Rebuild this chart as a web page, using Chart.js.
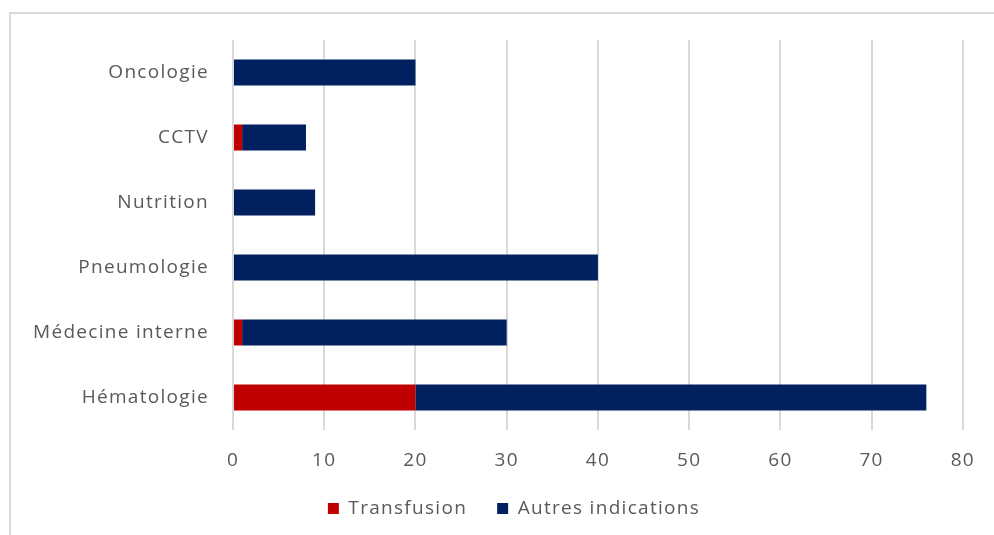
<!DOCTYPE html>
<html>
<head>
<meta charset="utf-8">
<script src="https://cdn.jsdelivr.net/npm/chart.js@4/dist/chart.umd.min.js"></script>
<style>
  html, body { margin: 0; padding: 0; background: #ffffff; }
  #wrap { position: relative; width: 994px; height: 535px; }
</style>
</head>
<body>
<div id="wrap"><canvas id="c" width="994" height="535"></canvas></div>
<script>
const categories = ['Oncologie', 'CCTV', 'Nutrition', 'Pneumologie', 'Médecine interne', 'Hématologie'];
const transfusion = [0, 1, 0, 0, 1, 20];
const autresIndications = [20, 7, 9, 40, 29, 56];
const seriesNames = ['Transfusion', 'Autres indications'];
const xTicks = [0, 10, 20, 30, 40, 50, 60, 70, 80];

const FONT = "'Open Sans', sans-serif";
const TEXT = '#595959';
const GRID = '#d9d9d9';
const SPACING = '1.3px';

const frame = {
  id: 'frame',
  afterInit(chart) {
    const lg = chart.legend;
    if (lg) {
      const f = lg.fit.bind(lg);
      lg.fit = function () { f(); this.height = 66; };
    }
  },
  beforeUpdate(chart) { chart.ctx.letterSpacing = SPACING; },
  beforeDraw(chart) {
    const ctx = chart.ctx;
    ctx.letterSpacing = SPACING;
    if (chart.legend) chart.legend.left = 64;
    ctx.save();
    ctx.strokeStyle = '#d9d9d9';
    ctx.lineWidth = 2;
    ctx.beginPath();
    ctx.moveTo(10, 535);
    ctx.lineTo(10, 13);
    ctx.lineTo(994, 13);
    ctx.stroke();
    ctx.restore();
  }
};

new Chart(document.getElementById('c'), {
  type: 'bar',
  data: {
    labels: categories,
    datasets: [
      { label: seriesNames[0], data: transfusion, backgroundColor: '#C00000', borderWidth: 0 },
      { label: seriesNames[1], data: autresIndications, backgroundColor: '#002060', borderWidth: 0 }
    ]
  },
  options: {
    indexAxis: 'y',
    responsive: false,
    animation: false,
    layout: { padding: { left: 0, right: 30, top: 40, bottom: 0 } },
    datasets: { bar: { categoryPercentage: 0.8, barPercentage: 0.5 } },
    plugins: {
      legend: {
        position: 'bottom',
        labels: {
          color: TEXT,
          font: { family: FONT, size: 19 },
          boxWidth: 11,
          boxHeight: 11,
          padding: 30
        }
      },
      tooltip: { enabled: false }
    },
    scales: {
      x: {
        stacked: true,
        min: 0,
        max: 80,
        afterBuildTicks(scale) { scale.ticks = xTicks.map(v => ({ value: v })); },
        afterFit(scale) { scale.height = 39; },
        ticks: { color: TEXT, font: { family: FONT, size: 19 }, padding: 19 },
        grid: { color: GRID, lineWidth: 2, drawTicks: false },
        border: { display: false }
      },
      y: {
        stacked: true,
        afterFit(scale) { scale.width = 233; },
        ticks: { color: TEXT, font: { family: FONT, size: 19 }, padding: 24 },
        grid: { display: false, drawTicks: false },
        border: { display: false }
      }
    }
  },
  plugins: [frame]
});
</script>
</body>
</html>
